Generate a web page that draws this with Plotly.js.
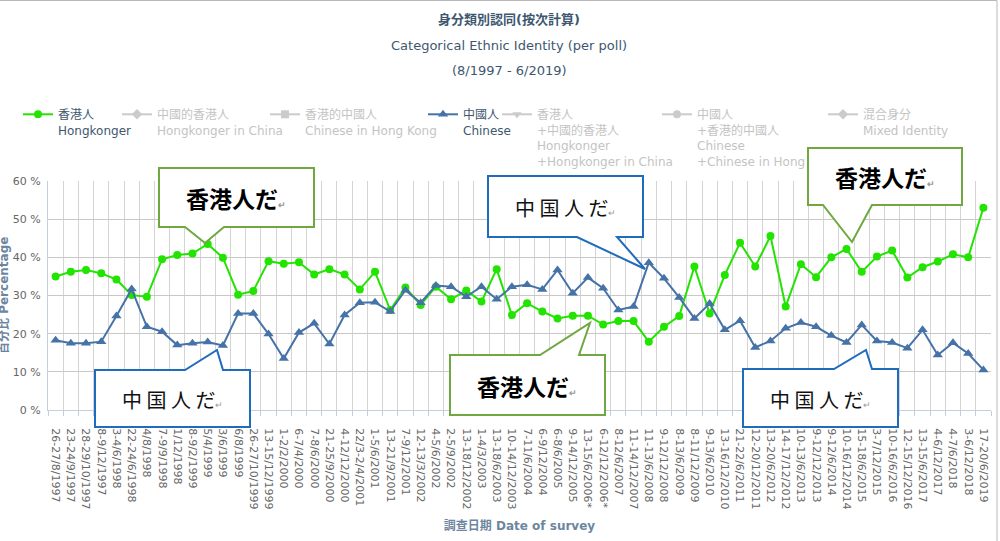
<!DOCTYPE html>
<html lang="ja">
<head>
<meta charset="UTF-8">
<title>身分類別認同(按次計算)</title>
<script src="https://cdn.plot.ly/plotly-3.0.1.min.js"></script>
<style>
    html, body { margin: 0; padding: 0; background: #fff; }
    #chart { width: 1000px; height: 541px; }
</style>
</head>
<body>
<div id="chart"></div>

<script>
    // survey dates (one per poll)
    const dates = [
        '26-27/8/1997', '23-24/9/1997', '28-29/10/1997', '8-9/12/1997', '3-4/6/1998',
        '22-24/6/1998', '4/8/1998', '7-9/9/1998', '1/12/1998', '8-9/2/1999',
        '5/4/1999', '3/6/1999', '6/8/1999', '26-27/10/1999', '13-15/12/1999',
        '1-2/2/2000', '6-7/4/2000', '7-8/6/2000', '21-25/9/2000', '4-12/12/2000',
        '22/3-2/4/2001', '1-5/6/2001', '13-21/9/2001', '7-9/12/2001', '12-13/3/2002',
        '4-5/6/2002', '2-5/9/2002', '13-18/12/2002', '1-4/3/2003', '13-18/6/2003',
        '10-14/12/2003', '7-11/6/2004', '6-9/12/2004', '6-8/6/2005', '9-14/12/2005',
        '13-15/6/2006*', '6-12/12/2006*', '8-12/6/2007', '11-14/12/2007', '11-13/6/2008',
        '9-12/12/2008', '8-13/6/2009', '8-11/12/2009', '9-13/6/2010', '13-16/12/2010',
        '21-22/6/2011', '12-20/12/2011', '13-20/6/2012', '14-17/12/2012', '10-13/6/2013',
        '9-12/12/2013', '9-12/6/2014', '10-16/12/2014', '15-18/6/2015', '3-7/12/2015',
        '10-16/6/2016', '12-15/12/2016', '13-15/6/2017', '4-6/12/2017', '4-7/6/2018',
        '3-6/12/2018', '17-20/6/2019'
    ];

    // 香港人 Hongkonger (%)
    const hongkonger = [
        35.0, 36.2, 36.7, 35.8, 34.2, 30.1, 29.7, 39.5, 40.6, 41.0,
        43.5, 39.9, 30.2, 31.2, 39.0, 38.3, 38.7, 35.5, 36.9, 35.5,
        31.6, 36.2, 26.2, 32.1, 27.5, 32.3, 29.0, 31.3, 28.4, 36.9,
        24.9, 28.0, 25.8, 24.0, 24.7, 24.7, 22.4, 23.3, 23.3, 17.9,
        21.8, 24.6, 37.6, 25.3, 35.4, 43.8, 37.6, 45.6, 27.1, 38.2,
        34.8, 40.0, 42.2, 36.2, 40.2, 41.8, 34.7, 37.4, 38.9, 40.8,
        40.0, 53.0
    ];

    // 中國人 Chinese (%)
    const chinese = [
        18.3, 17.5, 17.5, 17.9, 24.6, 31.7, 21.8, 20.5, 17.0, 17.5,
        17.8, 16.9, 25.3, 25.3, 19.9, 13.5, 20.3, 22.7, 17.3, 24.9,
        28.1, 28.2, 25.8, 31.4, 28.1, 32.6, 32.3, 29.7, 32.3, 29.0,
        32.3, 32.8, 31.6, 36.7, 30.6, 34.7, 31.9, 26.2, 27.1, 38.6,
        34.5, 29.5, 24.0, 27.9, 21.0, 23.4, 16.4, 18.1, 21.4, 22.9,
        21.8, 19.5, 17.7, 22.3, 18.1, 17.7, 16.2, 21.0, 14.4, 17.6,
        14.8, 10.5
    ];

    // series that are switched off in the legend (no data shown)
    const hiddenNames = [
        '中國的香港人<br>Hongkonger in China',
        '香港的中國人<br>Chinese in Hong Kong',
        '香港人<br>+中國的香港人<br>Hongkonger<br>+Hongkonger in China',
        '中國人<br>+香港的中國人<br>Chinese<br>+Chinese in Hong',
        '混合身分<br>Mixed Identity'
    ];
    const hiddenSymbols = ['diamond', 'square', 'triangle-down', 'circle', 'diamond'];
    const hiddenLegends = ['legend2', 'legend3', 'legend5', 'legend6', 'legend7'];

    const FONT = '"DejaVu Sans", "Noto Sans CJK TC", sans-serif';
    const GREEN = '#22e400';
    const BLUE = '#4572a7';

    // plot area in page pixels, used to place the decorations
    const L = 48, R = 991, T = 181, B = 410;
    function px(x) { return (x - L) / (R - L); }
    function py(y) { return (B - y) / (B - T); }

    function legendAt(textLeft, hidden) {
        return {
            x: px(textLeft - 40), xanchor: 'left',
            y: py(100), yanchor: 'top',
            orientation: 'v',
            valign: 'top',
            bgcolor: 'rgba(0,0,0,0)',
            borderwidth: 0,
            itemclick: false,
            itemdoubleclick: false,
            font: {family: FONT, size: 12, color: hidden ? '#888' : '#3e576f'}
        };
    }

    // speech bubble: box (x0,y0)-(x1,y1), tail base a..b on the top or bottom edge, tip
    function bubble(x0, y0, x1, y1, side, a, b, tx, ty, color) {
        let p;
        if (side === 'bottom') {
            p = `M${px(x0)},${py(y0)} L${px(x1)},${py(y0)} L${px(x1)},${py(y1)} L${px(b)},${py(y1)} ` +
                `L${px(tx)},${py(ty)} L${px(a)},${py(y1)} L${px(x0)},${py(y1)} Z`;
        } else {
            p = `M${px(x0)},${py(y0)} L${px(a)},${py(y0)} L${px(tx)},${py(ty)} L${px(b)},${py(y0)} ` +
                `L${px(x1)},${py(y0)} L${px(x1)},${py(y1)} L${px(x0)},${py(y1)} Z`;
        }
        return {
            type: 'path', xref: 'paper', yref: 'paper', path: p, layer: 'above',
            fillcolor: '#ffffff', line: {color: color, width: 2}
        };
    }

    const BOX_GREEN = '#6fa840';
    const BOX_BLUE = '#1f6cbd';
    const mark = '<span style="font-size:9px;color:#999">↵</span>';

    function note(x, y, text, font) {
        return {
            xref: 'paper', yref: 'paper', x: px(x), y: py(y),
            xanchor: 'center', yanchor: 'middle', showarrow: false,
            text: text, font: font
        };
    }
    function hkLabel(x, y) {
        return note(x, y, '香港人だ' + mark,
            {family: '"Noto Sans CJK JP", sans-serif', size: 23, color: '#000', weight: 'bold'});
    }
    function cnLabel(x, y) {
        return note(x, y, '中 国 人 だ' + mark,
            {family: '"Noto Sans CJK JP", sans-serif', size: 20, color: '#111'});
    }

    let data = [
        {
            x: dates, y: hongkonger, type: 'scatter', mode: 'lines+markers',
            name: '香港人<br>Hongkonger', legend: 'legend', showlegend: true,
            line: {color: GREEN, width: 2},
            marker: {symbol: 'circle', size: 8, color: GREEN}
        },
        {
            x: dates, y: chinese, type: 'scatter', mode: 'lines+markers',
            name: '中國人<br>Chinese', legend: 'legend4', showlegend: true,
            line: {color: BLUE, width: 2},
            marker: {symbol: 'triangle-up', size: 9, color: BLUE}
        }
    ];
    hiddenNames.forEach(function (name, i) {
        data.push({
            x: [null], y: [null], type: 'scatter', mode: 'lines+markers',
            name: name, visible: 'legendonly', showlegend: true,
            legend: hiddenLegends[i],
            line: {color: '#999', width: 2},
            marker: {symbol: hiddenSymbols[i], size: 8, color: '#999'}
        });
    });

    // y axis title sits half outside the picture in the original, so it is an annotation here
    let yTitle = note(4, 296, '百分比 Percentage',
        {family: FONT, size: 12, color: '#6d869f', weight: 'bold'});
    yTitle.textangle = -90;

    let layout = {
        width: 1000, height: 541,
        showlegend: true,
        paper_bgcolor: '#fff', plot_bgcolor: '#fff',
        margin: {l: L, r: 1000 - R, t: T, b: 541 - B, autoexpand: false},
        font: {family: FONT, color: '#666'},
        title: {
            text: '身分類別認同(按次計算)',
            xref: 'paper', x: px(509), xanchor: 'center',
            yref: 'container', y: 1 - 19 / 541, yanchor: 'middle',
            font: {family: FONT, size: 13, color: '#3e576f', weight: 'bold'}
        },
        xaxis: {
            type: 'category',
            range: [-0.5, dates.length - 0.5],
            tickson: 'boundaries',
            ticks: 'outside', ticklen: 5, tickcolor: '#c0d0e0',
            tickangle: 90,
            ticklabelstandoff: 15,
            tickfont: {family: FONT, size: 11, color: '#666'},
            showgrid: true, gridcolor: '#d4d4d4', gridwidth: 1,
            showline: true, linecolor: '#c0d0e0', linewidth: 1,
            automargin: false, fixedrange: true,
            title: {
                text: '調查日期 Date of survey', standoff: 13,
                font: {family: FONT, size: 12, color: '#6d869f', weight: 'bold'}
            }
        },
        yaxis: {
            range: [0, 60], dtick: 10,
            ticksuffix: ' %',
            tickfont: {family: FONT, size: 11, color: '#666'},
            ticklabelstandoff: 4,
            showgrid: true, gridcolor: '#c8c8c8', gridwidth: 1,
            zeroline: false,
            showline: true, linecolor: '#c0d0e0', linewidth: 1,
            automargin: false, fixedrange: true
        },
        legend: legendAt(58, false),
        legend2: legendAt(157, true),
        legend3: legendAt(305, true),
        legend4: legendAt(463, false),
        legend5: legendAt(537, true),
        legend6: legendAt(697, true),
        legend7: legendAt(863, true),
        shapes: [
            bubble(159, 168, 314, 227, 'bottom', 185, 224, 205, 243, BOX_GREEN),
            bubble(95, 370, 250, 427, 'top', 185, 223, 217, 350, BOX_BLUE),
            bubble(488, 176, 643, 237, 'bottom', 577, 617, 645, 269, BOX_BLUE),
            bubble(450, 355, 605, 415, 'top', 540, 579, 590, 323, BOX_GREEN),
            bubble(808, 148, 962, 205, 'bottom', 823, 872, 852, 242, BOX_GREEN),
            bubble(743, 369, 898, 427, 'top', 834, 872, 866, 350, BOX_BLUE),
            {
                type: 'rect', xref: 'paper', yref: 'paper', layer: 'above',
                x0: px(-2), x1: px(997), y0: py(545), y1: py(0.5),
                line: {color: '#b8b8b8', width: 1}
            }
        ],
        annotations: [
            note(509, 45, 'Categorical Ethnic Identity (per poll)',
                {family: FONT, size: 13, color: '#3e576f'}),
            note(509, 70, '(8/1997 - 6/2019)',
                {family: FONT, size: 13, color: '#3e576f'}),
            yTitle,
            hkLabel(236, 198),
            cnLabel(172, 399),
            cnLabel(565, 207),
            hkLabel(527, 386),
            hkLabel(885, 177),
            cnLabel(820, 399)
        ]
    };

    Plotly.newPlot('chart', data, layout, {displayModeBar: false, staticPlot: true});
</script>
</body>
</html>
